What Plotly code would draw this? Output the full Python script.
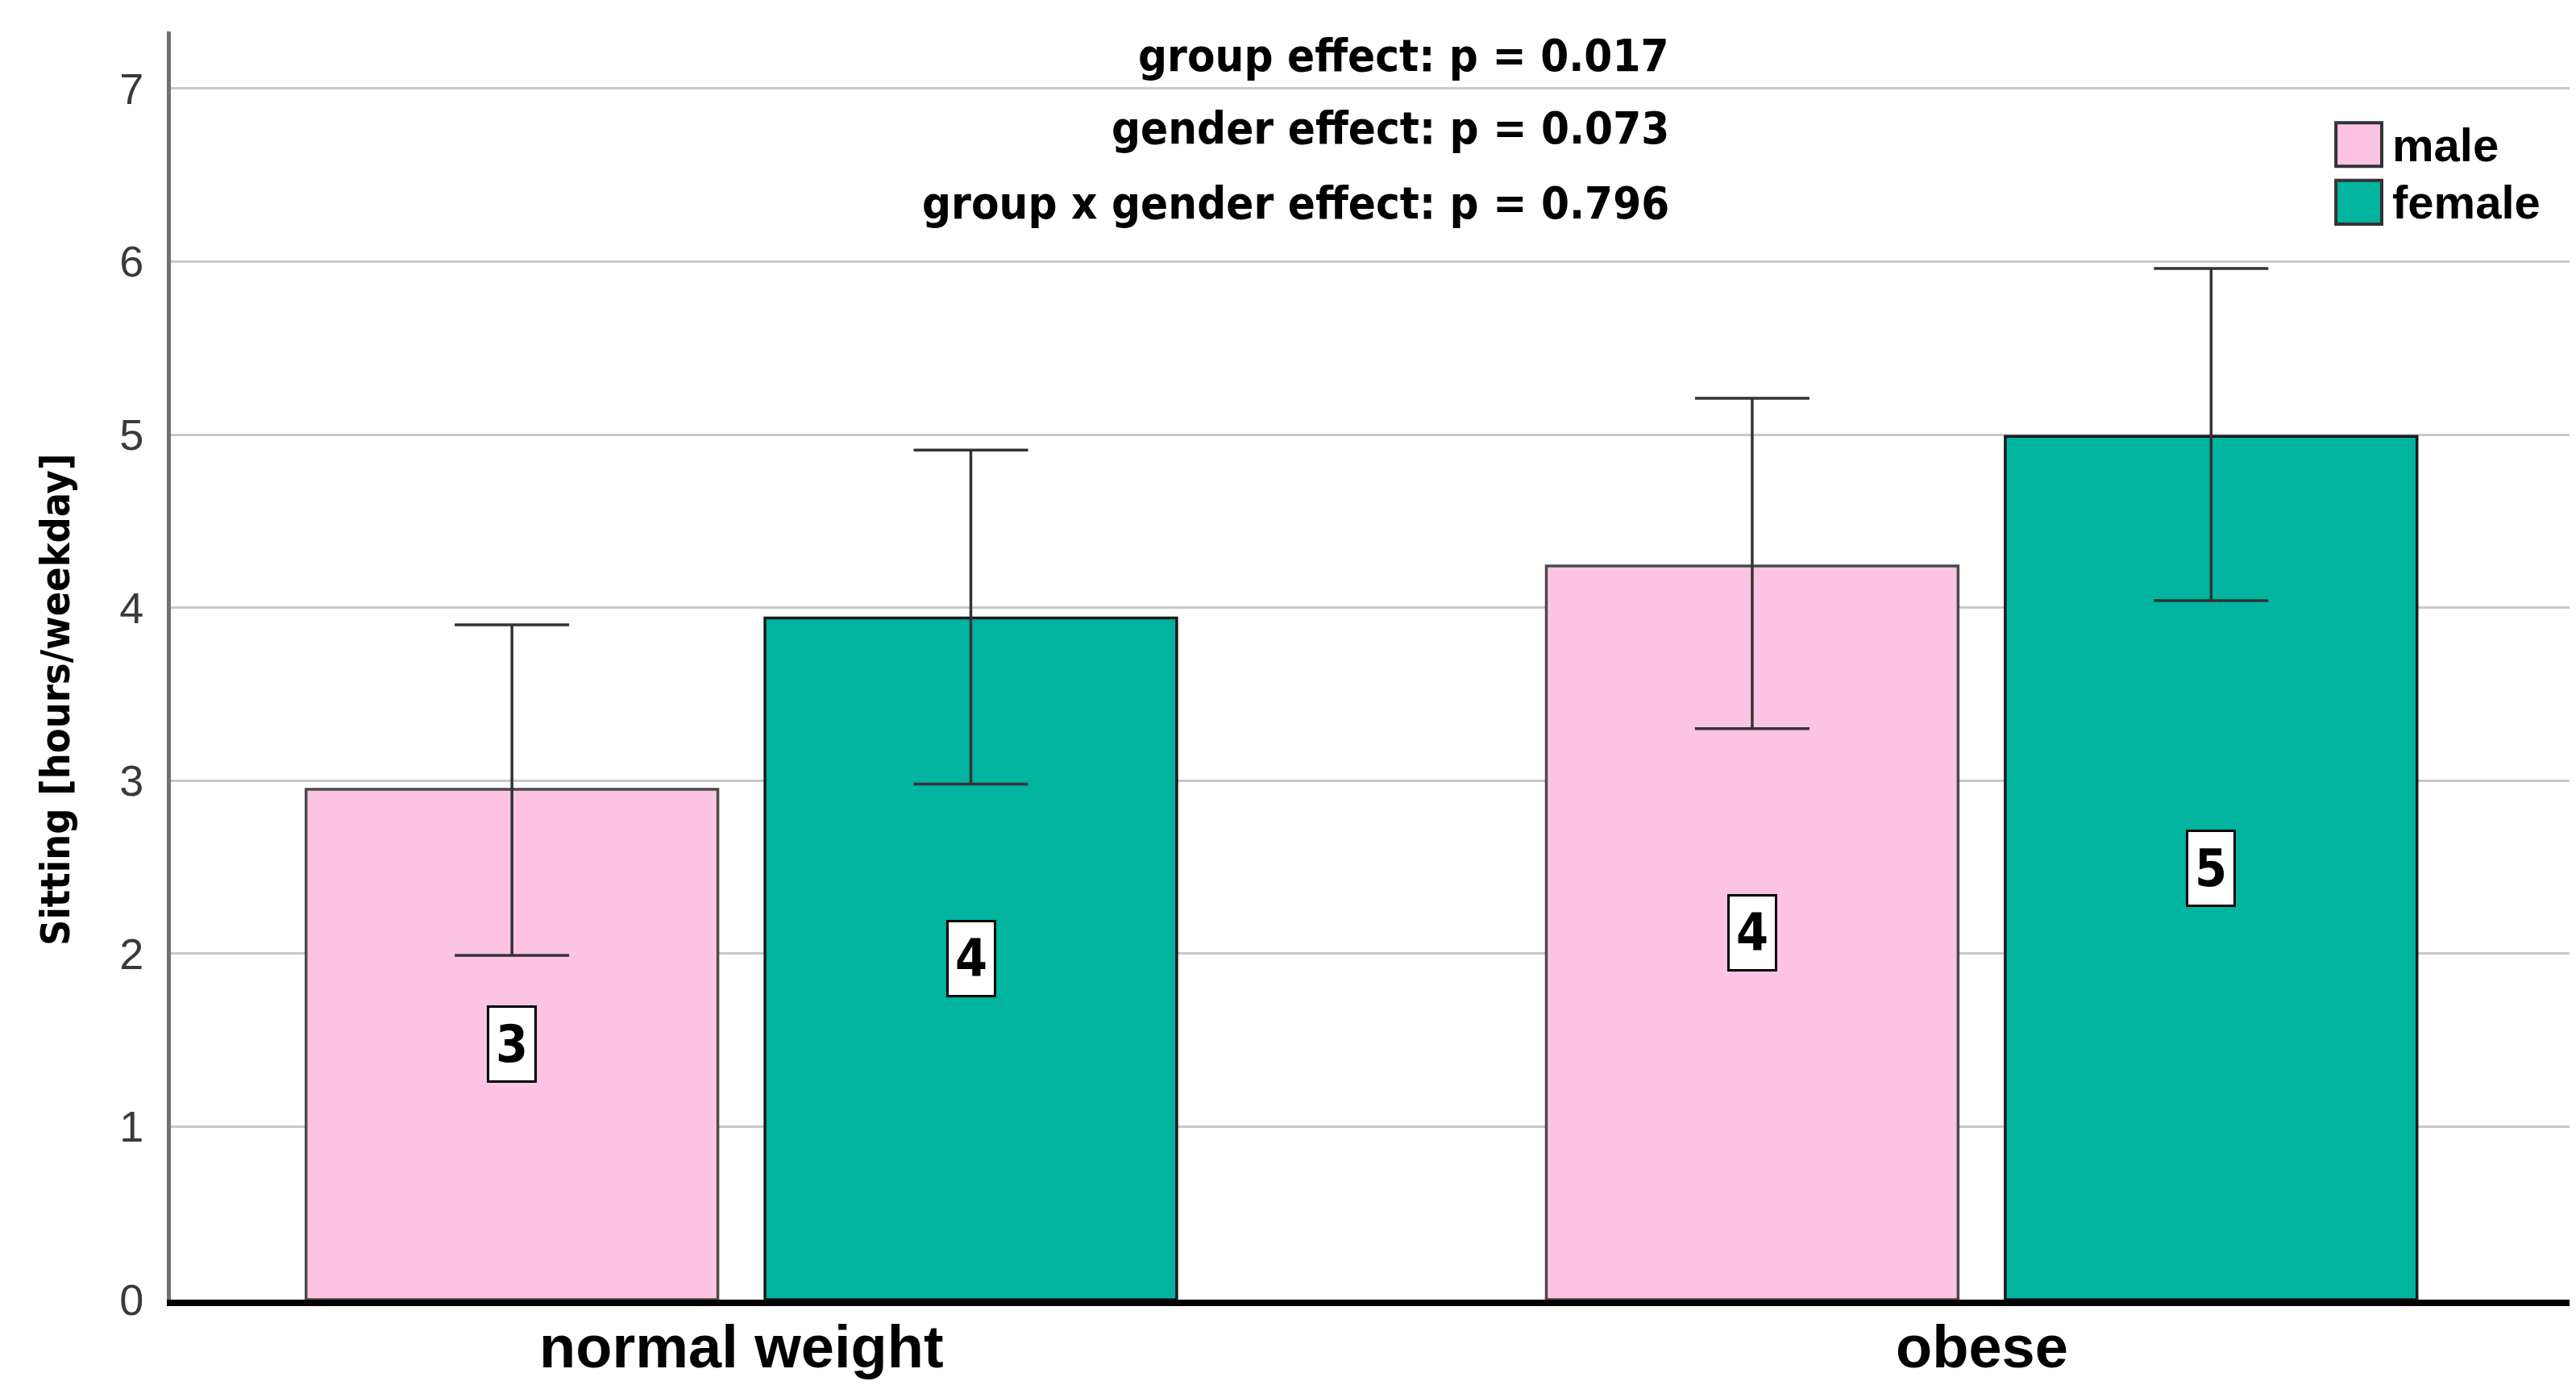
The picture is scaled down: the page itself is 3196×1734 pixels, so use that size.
import plotly.graph_objects as go

# ---- data ----
groups = ["normal weight", "obese"]
series_names = ["male", "female"]
male_mean = [2.95, 4.24]
male_upper = [3.90, 5.21]
male_lower = [1.99, 3.30]
female_mean = [3.94, 4.99]
female_upper = [4.91, 5.96]
female_lower = [2.98, 4.04]
p_labels = ["group effect: p = 0.017", "gender effect: p = 0.073", "group x gender effect: p = 0.796"]
y_ticks = [0, 1, 2, 3, 4, 5, 6, 7]
y_title = "Sitting [hours/weekday]"

colors = {"male": "#FCC4E2", "female": "#00B4A0"}
outline = {"male": "#4a4a4a", "female": "#1a1a1a"}
offset = 0.185
bar_w = 0.332
narrow = "Liberation Sans Narrow, Arial Narrow, DejaVu Sans Condensed, sans-serif"
regular = "Liberation Sans, Arial, sans-serif"

fig = go.Figure()
series = [
    ("male", male_mean, male_upper, male_lower, -offset),
    ("female", female_mean, female_upper, female_lower, offset),
]
for name, mean, up, lo, off in series:
    xs = [i + off for i in range(len(groups))]
    fig.add_trace(go.Bar(
        x=xs, y=mean, width=bar_w, name=name, showlegend=False,
        marker=dict(color=colors[name], line=dict(color=outline[name], width=3.5)),
        error_y=dict(type="data", symmetric=False,
                     array=[u - m for u, m in zip(up, mean)],
                     arrayminus=[m - l for m, l in zip(mean, lo)],
                     color="#333333", thickness=3.5, width=71),
    ))
    for x, m in zip(xs, mean):
        fig.add_annotation(x=x, y=m / 2, xref="x", yref="y", text=f"<b>{round(m):d}</b>",
                           showarrow=False, bgcolor="white", bordercolor="black",
                           borderwidth=3, borderpad=8,
                           font=dict(family=narrow, size=64, color="black"))

# group labels under the axis
for i, g in enumerate(groups):
    fig.add_annotation(x=i, y=-0.0373, xref="x", yref="paper", text=f"<b>{g}</b>",
                       showarrow=False, xanchor="center", yanchor="middle",
                       font=dict(family=regular, size=74, color="black"))

# p-value annotations
for txt, py in zip(p_labels, [0.981, 0.924, 0.8646]):
    fig.add_annotation(x=0.6253, y=py, xref="paper", yref="paper", text=f"<b>{txt}</b>",
                       showarrow=False, xanchor="right", yanchor="middle",
                       font=dict(family=narrow, size=56, color="black"))

# y-axis title
fig.add_annotation(x=-0.048, y=0.4731, xref="paper", yref="paper", text=f"<b>{y_title}</b>",
                   showarrow=False, textangle=-90, xanchor="center", yanchor="middle",
                   font=dict(family=narrow, size=50, color="black"))

# manual legend
leg_y = [0.9108, 0.8653]
for name, yc in zip(series_names, leg_y):
    fig.add_shape(type="rect", xref="paper", yref="paper",
                  x0=0.9026, x1=0.9217, y0=yc - 0.0172, y1=yc + 0.0172,
                  fillcolor=colors[name], line=dict(color="#333333", width=4))
    fig.add_annotation(x=0.9255, y=yc, xref="paper", yref="paper", text=f"<b>{name}</b>",
                       showarrow=False, xanchor="left", yanchor="middle",
                       font=dict(family=regular, size=58, color="black"))

fig.update_layout(
    width=3196, height=1734,
    margin=dict(l=204, r=16, t=31, b=130),
    paper_bgcolor="white", plot_bgcolor="white",
    showlegend=False,
    xaxis=dict(range=[-0.46, 1.474], tickvals=list(range(len(groups))), showticklabels=False,
               showgrid=False, zeroline=False, showline=True, linecolor="black", linewidth=8,
               ticks=""),
    yaxis=dict(range=[0, 7.33], tickvals=y_ticks, showgrid=True, gridcolor="#C8C8C8",
               gridwidth=3, zeroline=False, showline=True, linecolor="#707070", linewidth=5,
               ticks="", ticklabelstandoff=18,
               tickfont=dict(family=regular, size=54, color="#3a3a3a")),
)

fig.write_html("out.html")
